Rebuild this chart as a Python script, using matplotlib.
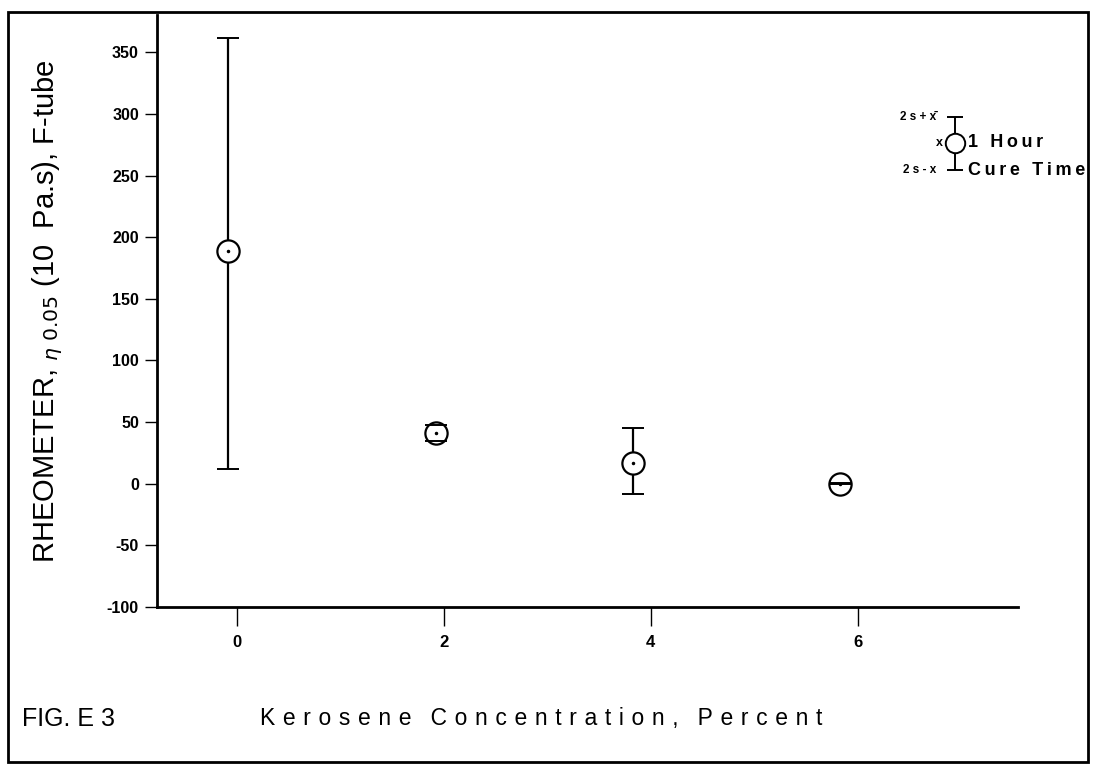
import numpy as np
import matplotlib.pyplot as plt
from matplotlib.patches import Rectangle

plt.rcParams['font.family'] = ['Liberation Sans', 'DejaVu Sans']
plt.rcParams['axes.unicode_minus'] = False

# kerosene concentration (plotted positions) and rheometer readings
kerosene = [-0.08, 1.93, 3.83, 5.83]
media = [189, 41, 17, 0]
sup = [362, 47.5, 45, 0.3]      # 2s + x
inf = [12, 34.4, -8.5, -0.3]    # 2s - x

yticks = [-100, -50, 0, 50, 100, 150, 200, 250, 300, 350]
xticks = [0, 2, 4, 6]

x = np.array(kerosene)
y = np.array(media)
err = np.array([y - np.array(inf), np.array(sup) - y])

fig = plt.figure(figsize=(10.93, 7.67), dpi=100)
ax = fig.add_axes([0.1436, 0.2086, 0.7878, 0.7714])

# barras de error y marcadores (circulo con punto)
ax.errorbar(x, y, yerr=err, fmt='none', ecolor='black', elinewidth=1.6, capsize=0, zorder=2)
ax.plot(x, y, 'o', ms=16, mfc='white', mec='black', mew=1.6, zorder=3)
ax.errorbar(x, y, yerr=err, fmt='none', ecolor='black', elinewidth=0, capsize=8, capthick=1.4, zorder=4)
ax.plot(x, y, '.', ms=3, color='black', zorder=5)

ax.set_xlim(-0.77, 7.55)
ax.set_ylim(-100, 380)
ax.set_xticks(xticks)
ax.set_yticks(yticks)
ax.tick_params(axis='y', direction='out', length=9, width=1, labelsize=11.5, pad=4)
ax.tick_params(axis='x', direction='out', length=14, width=1, labelsize=12, pad=6)
for lb in ax.get_xticklabels() + ax.get_yticklabels():
    lb.set_fontweight('bold')
for s in ['top', 'right']:
    ax.spines[s].set_visible(False)
for s in ['left', 'bottom']:
    ax.spines[s].set_linewidth(2)

ax.set_ylabel(r'RHEOMETER, $_{\eta\ 0.05}$ (10  Pa.s), F-tube', fontsize=21, labelpad=30)

# leyenda dibujada a mano
t = ax.transAxes
ax.errorbar([0.927], [0.785], yerr=[[0.047], [0.043]], fmt='o', ms=14, mfc='white', mec='black',
            mew=1.4, ecolor='black', elinewidth=1.4, capsize=6, capthick=1.4, transform=t, clip_on=False)
ax.plot([0.927], [0.785], '.', ms=2.5, color='black', transform=t)
ax.text(0.905, 0.828, '2 s + x\u0304', transform=t, ha='right', va='center', fontsize=8.5, fontweight='bold')
ax.text(0.913, 0.785, 'x', transform=t, ha='right', va='center', fontsize=9, fontweight='bold')
ax.text(0.905, 0.738, '2 s - x', transform=t, ha='right', va='center', fontsize=8.5, fontweight='bold')
ax.text(0.942, 0.785, '\u2009'.join('1 Hour'), transform=t, ha='left', va='center', fontsize=13, fontweight='bold')
ax.text(0.942, 0.738, '\u2009'.join('Cure Time'), transform=t, ha='left', va='center', fontsize=13, fontweight='bold')

fig.text(0.02, 0.063, 'FIG. E 3', fontsize=18, ha='left', va='center')
etiqueta = '\u2004'.join('Kerosene Concentration, Percent').replace('\u2004 \u2004', '   ')
fig.text(0.495, 0.063, etiqueta, fontsize=16.5, ha='center', va='center')

fig.add_artist(Rectangle((0.0073, 0.0065), 0.988, 0.978, transform=fig.transFigure,
                         fill=False, edgecolor='black', lw=2))

fig.savefig('out.png', dpi=100)
